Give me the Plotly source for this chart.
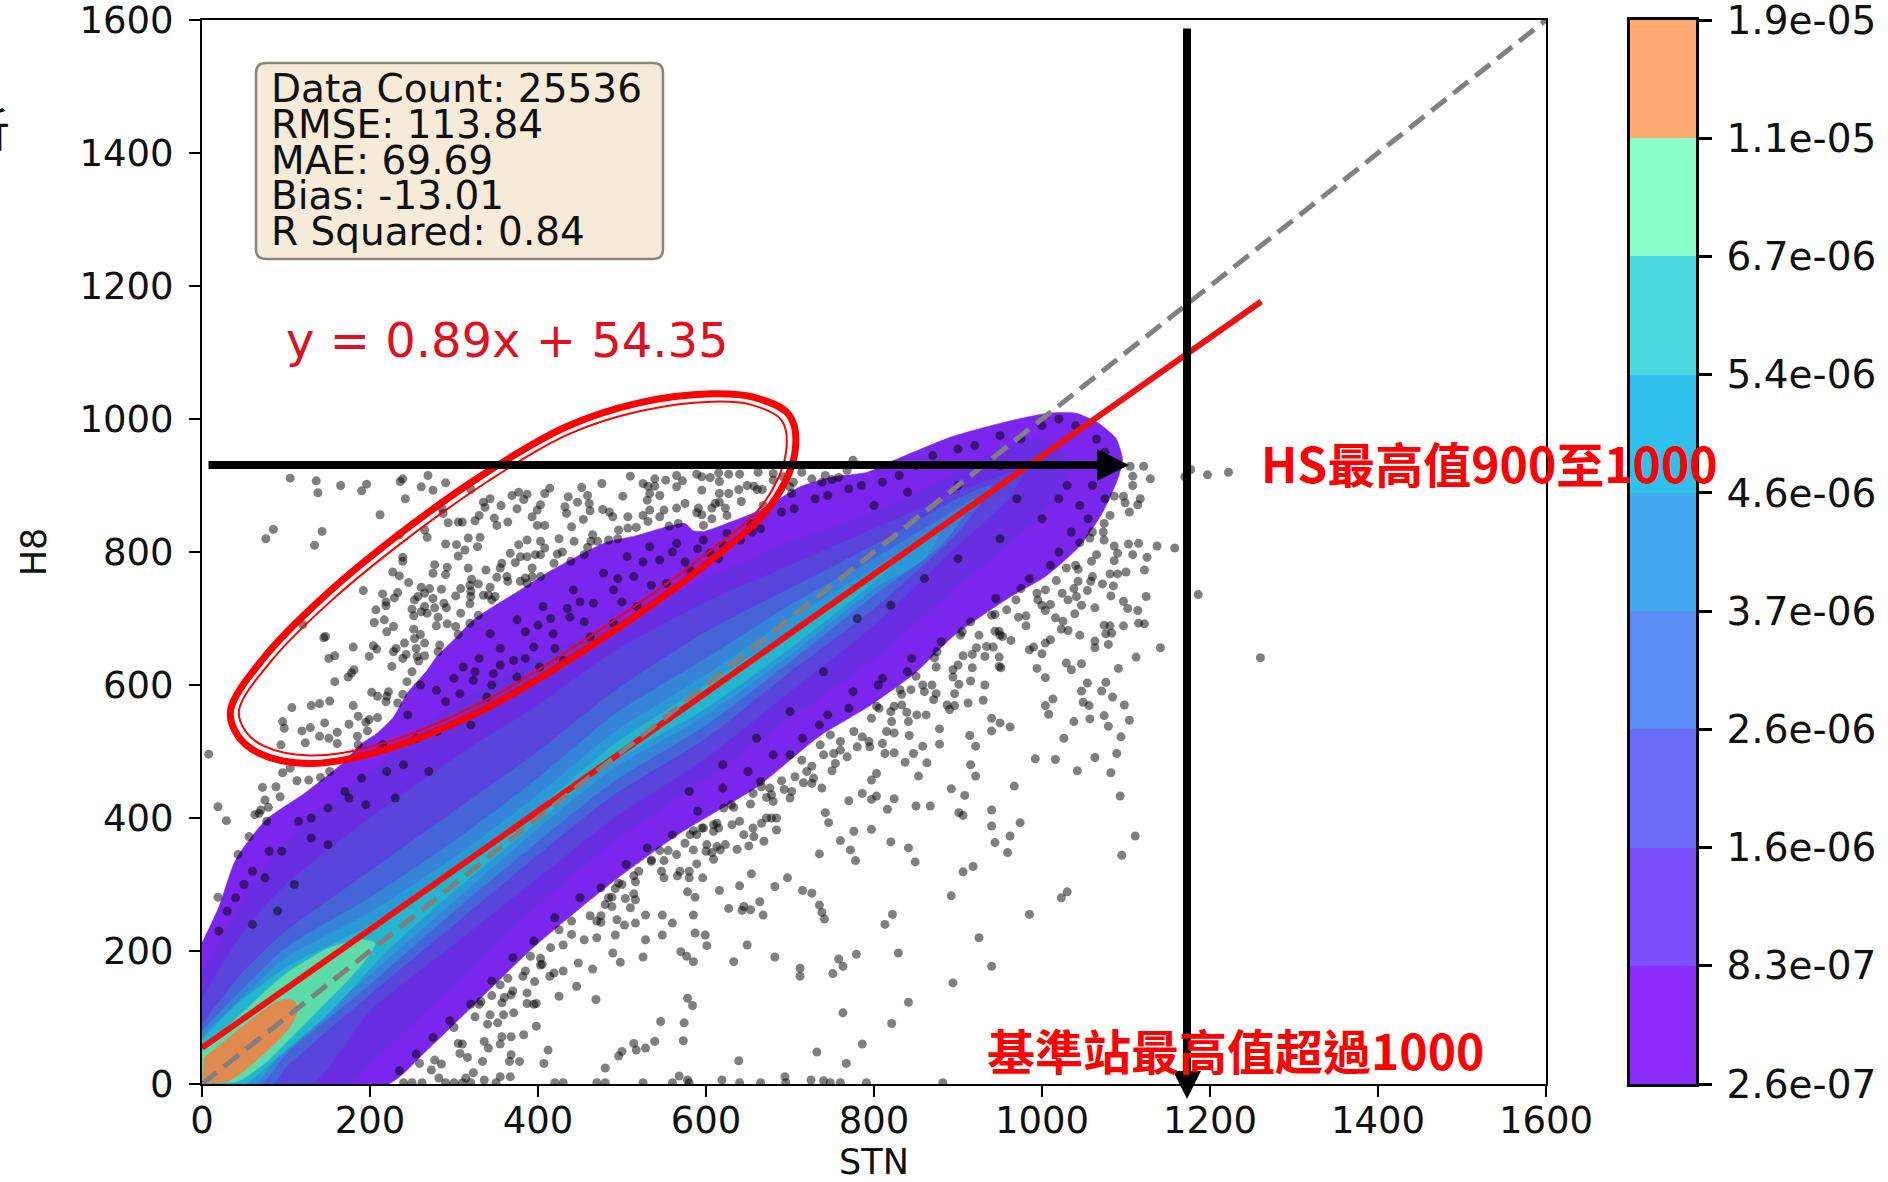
import plotly.graph_objects as go

W, H = 1888, 1182
PLOT_L, PLOT_R, PLOT_T, PLOT_B = 202, 1546, 20, 1084
CB_L, CB_R = 1630, 1696

axis_ticks = [0, 200, 400, 600, 800, 1000, 1200, 1400, 1600]
cbar_labels = ["2.6e-07", "8.3e-07", "1.6e-06", "2.6e-06", "3.7e-06", "4.6e-06", "5.4e-06", "6.7e-06", "1.1e-05", "1.9e-05"]
cbar_colors = ["#8b2cfb", "#7b50fb", "#6a6cf8", "#5a8ef5", "#40a9f0", "#30c0ec", "#4ad8e2", "#8affc8", "#ffa870"]
band_colors = ["#7a26ec", "#6a2ee2", "#5844da", "#4664d8", "#3584d8", "#2a9ad6", "#25b5cc", "#5cdca8", "#e08a50"]

band1_x = [0, 20, 40, 76, 123, 168, 188, 208, 228, 244, 268, 279, 303, 323, 347, 379, 410, 446, 482, 518, 553, 575, 585, 597, 625, 665, 712, 752, 792, 826, 894, 958, 1008, 1040, 1067, 1088, 1096, 1090, 1072, 1045, 1004, 963, 894, 849, 794, 735, 661, 569, 487, 396, 305, 268, 222, 0]
band1_y = [212, 266, 337, 397, 438, 483, 510, 527, 552, 587, 622, 642, 672, 698, 718, 743, 768, 793, 815, 825, 838, 843, 832, 831, 843, 863, 898, 913, 920, 939, 974, 996, 1009, 1009, 994, 971, 939, 909, 859, 809, 763, 733, 673, 618, 568, 523, 447, 377, 302, 207, 96, 51, 0, 0]
band2_x = [0, 30, 60, 100, 150, 200, 300, 400, 490, 600, 700, 800, 900, 950, 1000, 1025, 1030, 1000, 950, 900, 800, 700, 600, 490, 400, 300, 200, 175, 0]
band2_y = [165, 235, 300, 365, 420, 470, 570, 640, 690, 760, 815, 860, 920, 955, 970, 950, 910, 860, 800, 750, 640, 550, 460, 365, 270, 150, 30, 0, 0]
band3_x = [0, 50, 100, 200, 300, 400, 490, 600, 700, 800, 900, 980, 960, 900, 800, 700, 600, 490, 400, 300, 200, 130, 0]
band3_y = [130, 230, 300, 400, 490, 570, 650, 725, 780, 835, 890, 925, 880, 810, 690, 590, 490, 400, 310, 210, 110, 0, 0]
band4_x = [0, 50, 100, 200, 300, 400, 490, 600, 700, 800, 900, 940, 900, 800, 700, 600, 490, 400, 300, 200, 100, 85, 0]
band4_y = [90, 170, 230, 320, 410, 500, 590, 680, 745, 810, 880, 900, 830, 715, 620, 520, 435, 345, 240, 135, 25, 0, 0]
band5_x = [0, 50, 100, 200, 300, 400, 490, 600, 700, 800, 880, 920, 880, 800, 700, 600, 490, 400, 300, 200, 100, 70, 0]
band5_y = [80, 145, 205, 280, 365, 460, 555, 640, 720, 790, 850, 880, 810, 735, 635, 540, 455, 365, 260, 150, 45, 0, 0]
band6_x = [0, 50, 100, 200, 300, 400, 490, 600, 700, 800, 860, 880, 860, 800, 700, 600, 490, 400, 300, 200, 100, 62, 0]
band6_y = [72, 132, 190, 258, 340, 435, 528, 615, 700, 775, 825, 835, 790, 745, 645, 555, 475, 385, 275, 165, 55, 0, 0]
band7_x = [0, 40, 100, 190, 300, 400, 490, 600, 700, 790, 830, 800, 700, 600, 490, 400, 300, 220, 150, 90, 50, 0]
band7_y = [66, 118, 175, 232, 320, 415, 510, 600, 680, 760, 790, 755, 655, 565, 485, 395, 290, 200, 105, 40, 0, 0]
band8_x = [0, 43, 95, 150, 190, 206, 198, 178, 147, 111, 77, 43, 0]
band8_y = [51, 101, 161, 204, 217, 212, 192, 162, 122, 76, 34, 4, 3]
band9_x = [0, 31, 61, 91, 105, 113, 111, 99, 83, 43, 2]
band9_y = [1, 4, 31, 66, 86, 106, 124, 127, 119, 81, 39]
bands_x = [band1_x, band2_x, band3_x, band4_x, band5_x, band6_x, band7_x, band8_x, band9_x]
bands_y = [band1_y, band2_y, band3_y, band4_y, band5_y, band6_y, band7_y, band8_y, band9_y]

scatter_pairs = [
(105,911),(136,907),(138,889),(165,900),(190,892),(196,902),(236,906),(239,910),(269,915),(261,898),(275,893),(290,904),(242,880),(212,856),(85,834),(76,820),(143,831),(134,810),(320,894),(286,865),(287,858),(265,833),(268,822),(235,826),(293,844),(305,845),(310,845),(325,847),(330,855),(335,875),(343,880),(337,867),(356,870),(348,851),(351,840),(364,845),(375,865),(369,885),(377,890),(387,887),(383,879),(408,888),(414,896),(403,871),(399,863),(393,853),(399,840),(408,840),(432,868),(436,883),(447,875),(459,885),(452,897),(476,903),(461,873),(462,862),(434,858),(454,849),(440,838),(477,864),(485,860),(489,853),(501,884),(507,853),(510,914),(539,910),
(525,903),(531,899),(539,899),(533,888),(545,885),(530,878),(552,908),(565,915),(572,907),(565,898),(589,917),(595,913),(605,912),(616,906),(615,919),(627,917),(640,917),(662,920),(595,893),(616,888),(627,888),(639,894),(649,900),(657,899),(661,894),(616,875),(611,873),(607,866),(623,866),(642,876),(591,866),(589,859),(595,856),(575,873),(565,866),(533,863),(525,855),(531,846),(545,853),(550,863),(607,850),(597,840),(625,855),(507,836),(517,837),(496,833),(556,839),(567,843),
(465,826),(463,816),(471,816),(459,807),(484,818),(495,820),(443,816),(425,820),(423,797),(429,800),(439,786),(419,783),(455,796),(403,816),(408,806),(387,818),(377,811),(367,798),(379,793),(387,793),(397,796),(403,796),(373,784),(357,783),(355,776),(393,776),(393,763),(385,761),(403,763),(363,763),(351,762),(364,756),(379,756),(387,753),
(317,821),(331,822),(328,808),(303,811),(290,812),(313,803),(305,794),(239,792),(239,786),(277,781),(292,777),(317,776),(338,773),(275,768),(290,766),(227,770),(235,764),(321,759),(246,754),(261,747),(271,745),(285,744),(308,745),(319,750),(343,747),(329,752),(192,742),(215,737),(233,739),(229,731),(219,725),(219,719),(207,713),(257,733),(253,728),(265,738),(275,730),(302,734),(320,741),(320,733),(335,735),(341,735),(349,733),(345,728),(319,722),(288,723),(250,714),(265,718),(277,716),(291,716),(261,710),(268,708),(252,704),(281,702),(308,708),(329,705),(217,698),(205,694),(228,688),(220,680),(120,691),(279,689),(292,692),(302,688),(319,693),(252,684),(147,673),(145,671),(305,676),(260,676),(253,670),(241,663),(265,663),(180,657),(204,659),(208,654),(231,655),(228,650),(255,655),(283,660),(281,650),(158,644),(151,640),(199,643),(243,646),(239,640),(256,643),(265,644),(258,636),(226,628),(250,620),(181,623),(178,618),(174,612),(158,605),(244,605),(202,589),(209,583),(222,590),(220,583),(219,575),(239,586),(233,573),(152,576),(140,572),(130,569),(180,569),(107,566),(186,553),(96,545),(98,535),(199,548),(209,551),(146,543),(175,541),(195,544),(129,536),(119,531),(161,529),(197,531),(140,523),(151,520),(185,523),(123,513),(161,512),(186,510),(94,510),
(714,920),(726,910),(742,915),(738,905),(750,909),(758,912),(768,923),(775,938),(704,905),(700,898),(702,888),(680,918),(680,908),(692,913),(667,894),(668,870),
(8,496),(19,417),(29,396),(43,345),(19,281),(56,372),(68,407),(79,416),(72,446),(88,447),(75,427),(93,432),(63,405),(70,412),(77,395),(96,468),(105,475),(113,456),(127,457),(141,461),(152,470),
(803,568),(797,550),(776,530),(786,522),(794,515),(780,507),(736,510),(748,525),(795,507),(760,502),(752,497),(768,492),(740,495),(714,487),(726,478),(750,471),(754,482),(706,462),(690,456),(716,453),(728,460),(738,445),(726,452),(797,457),(803,467),(786,437),(797,428),(803,433),(770,426),(656,437),(666,447),(676,445),(693,443),(702,440),(678,435),(672,431),(700,430),(633,416),(621,415),(653,421),(742,408),(746,393),(609,390),(613,392),(631,390),(597,385),(585,381),(581,375),(609,380),(615,385),(666,392),(672,400),(678,400),(684,400),(656,385),(684,382),(776,380),(797,383),(645,375),(657,372),(669,365),(760,366),(589,375),(575,362),(601,360),(613,357),(623,360),(585,352),(607,348),(617,352),(637,353),(651,358),(735,346),(772,352),(778,336),(555,351),(545,351),(535,337),(550,336),(609,338),(589,331),(547,320),(569,320),(580,320),(566,313),(580,310),(596,310),(654,316),(697,310),(514,313),(516,304),(496,302),(492,294),(640,298),(682,297),(578,289),(616,291),(715,291),(726,287),(514,286),(488,281),(504,279),(516,277),(587,281),(664,274),(484,280),(735,269),(488,267),(627,264),(645,267),
(259,31),(277,36),(273,21),(282,9),(314,9),(323,17),(336,64),(341,54),(305,61),(307,46),(316,40),(334,34),(336,6),(355,11),(367,11),(366,34),(378,34),(368,44),(357,71),(368,71),(383,74),(352,92),(359,104),(371,107),(343,104),(325,101),(332,124),(357,122),(387,121),(398,121),(387,137),(368,134),(345,133),(398,87),(412,51),(407,31),(425,132),(469,127),(446,147),(414,162),(419,167),(396,154),(382,162),(355,149),(364,159),(391,192),(403,189),(403,179),(430,209),(448,182),(465,173),(455,217),(425,232),(462,253),(475,253),(475,243),(492,224),(489,197),(498,183),(525,191),(528,217),(548,224),(548,254),(560,242),(503,239),(516,242),(494,247),(528,254),(585,254),(587,227),(599,224),(601,208),(570,199),(577,192),(585,184),(578,129),(584,118),(546,94),(574,92),(514,61),(528,54),(517,51),(539,64),(573,65),(500,49),(496,42),(480,24),(639,35),(568,12),(578,6),(619,6),(694,11),
(649,209),(633,184),(682,191),(668,254),(653,262),(643,261),
(240,2),(250,2),(262,2),(290,2),(300,2),(310,2),(320,2),(350,2),(420,2),(430,2),(470,2),(480,2),(525,2),(560,2),(580,2),(640,2),(665,2),(695,2),(760,2),
(1105,929),(1121,929),(1129,910),(1108,914),(1108,900),(1177,924),(1170,913),(1197,916),(1222,920),(1097,884),(1086,884),(1117,880),(1114,871),(1099,874),(1104,860),(1081,855),(1074,843),(1073,830),(1074,818),(1057,821),(1086,809),(1103,812),(1115,813),(1137,809),(1158,806),(1090,798),(1108,796),(1125,792),(1086,787),(1065,796),(1059,786),(1045,814),(1122,773),(1100,770),(1081,767),(1090,767),(1029,776),(1043,774),(1060,763),(1017,757),(1043,756),(1058,756),(1072,752),(1085,749),(1004,743),(994,738),(1038,745),(1024,738),(1054,742),(1124,733),(1082,734),(1186,736),(995,728),(969,728),(1010,721),(1031,728),(1041,733),(1097,726),(1047,720),(1063,716),(1102,715),(1114,712),(1004,712),(1039,707),(958,713),(944,706),(981,704),(972,702),(1016,701),(1025,696),(1115,693),(1122,692),(1074,690),(1081,689),(1097,689),(981,689),(1023,684),(1031,682),(1045,675),(1076,677),(1083,678),(944,681),(925,675),(949,681),(903,675),(953,673),(963,667),(1010,668),(1004,663),(1063,666),(1079,661),(1063,656),(990,657),(985,653),(934,658),(922,656),(942,657),(1141,656),(1000,647),(1260,641),(1112,642),(906,644),(917,646),(932,643),(949,642),(872,641),(1029,633),(1047,632),(949,628),(917,626),(994,625),(1091,625),(1035,623),(874,627),(894,623),(951,626),(894,612),(1004,611),(1054,603),(1076,604),(858,600),(869,600),(850,613),(901,601),(915,606),(932,600),(831,593),(844,593),(1047,591),(1071,591),(874,587),(896,587),(833,586),(1084,582),(1013,579),(871,578),(930,577),(1004,569),(1049,574),(1056,569),(1098,570),(912,573),(887,570),(896,569),(890,563),(824,568),(833,570),(806,565),(839,559),(851,555),(862,555),(1008,556),(1074,554),(821,545),(841,545),(1057,549),(1104,547),(1038,545),(940,550),(950,543),(1079,538),(962,537),(878,534),(940,531),(815,530),(824,528),(842,524),(914,524),(1026,520),(1094,522),(878,511),(810,512),(858,508),(921,508),(824,498),(813,497),(847,497),(1089,497),(992,489),(1016,488),(1063,491),(837,484),(863,483),(915,480),(1042,471),(1082,468),(921,463),(853,463),
(892,444),(908,434),(967,448),(1093,433),(816,413),(850,418),(867,418),(824,429),(901,408),(906,404),(940,412),(940,388),(974,393),(962,373),(1111,373),(820,364),(944,363),(841,355),(1095,344),(959,348),(849,334),(918,327),(906,319),(1030,289),(1023,280),(892,283),(738,258),(741,248),(822,255),(813,240),(985,255),(925,220),(829,197),(779,195),(758,188),(763,177),(751,166),(940,177),(894,152),(841,123),(763,107),(821,91),(786,60),(732,48),(767,31),(725,6),(740,5),(748,2),(791,2),(882,2),(712,174),(712,162),
(311,627),(323,607),(347,617),(371,637),(395,657),(418,677),(438,702),(466,723),(490,743),(514,763),(545,788),(565,813),(597,818),(625,828),(343,677),(375,698),(406,718),(442,743),(478,768),(506,793),(533,808),(279,592),(307,587),(339,582),(375,612),(402,627),(430,637),(462,672),(490,693),(518,718),(553,753),(581,773),(605,798),(641,818),(653,843),
(60,320),(95,350),(130,400),(170,440),(110,300),(150,360),(195,420),(240,480),(280,530),(90,260),(60,240),(40,280),(230,430),(270,470),(320,540),
(340,90),(370,140),(405,180),(440,225),(480,270),(520,320),(310,60),(285,30),(355,60),(395,120),(430,170),(470,220),(510,265),(550,310),(600,350),(640,395),(680,425),(720,470),(760,515),
(820,560),(860,590),(900,630),(950,675),(1000,720),(1040,780),(1060,830),(1020,880),(970,880),(900,900),(840,890),(800,870),(780,700),(820,720),(860,760),(900,790),(950,820),(1000,850),(1030,900),(950,930),(740,620),(700,560),(660,520),(620,480),(580,440),
(330,640),(355,655),(385,680),(415,700),(450,725),(495,760),(525,785),(560,800),(590,805),(620,810),(655,830),(690,860),(730,880),(770,895),(810,905),(850,930),(900,955),(950,975),(1000,990),(1040,990),(1065,970),
(300,610),(345,600),(385,640),(420,655),(455,695),(500,725),(535,750),(575,785),(615,790),(665,835),(705,865),(745,885),(785,900),(830,915),(870,945),(920,960),(975,970),(1020,1000),(1075,950),(1060,900),
(30,260),(50,300),(80,350),(115,395),(150,415),(190,460),(215,510),(245,555),(260,600),(20,230),(75,310),(130,370),(175,430),(220,470),(255,520),(290,575),(325,620),(355,630),(400,690),(435,715),
(235,20),(255,45),(275,70),(295,95),(320,120),(345,155),(370,190),(395,215),(420,250),(450,280),(475,295),(505,330),(530,355),(560,375),(590,410),(620,445),(650,470),(680,495),(715,520),(745,555),(775,590),(810,610),(845,640),(880,665),(915,695),(945,730),(985,760),(1020,800),(1055,850),(1075,880),
(300,85),(330,120),(360,130),(385,170),(415,205),(440,245),(470,245),(500,300),(535,335),(565,345),(595,385),(630,420),(665,455),(700,495),(735,540),(770,565),(805,600),(840,620),(875,650),(905,680),(940,705),(975,745),(1010,780),(1035,830),(1045,870)
]
stn_values = [p[0] for p in scatter_pairs]
h8_values = [p[1] for p in scatter_pairs]

fit_x = [0, 1261]
fit_y = [54.35, 1176.64]
identity_x = [0, 1600]
identity_y = [0, 1600]

ring_outer_x = [34, 42, 67, 125, 204, 333, 476, 606, 677, 706, 699, 656, 606, 519, 433, 333, 232, 146, 75, 34]
ring_outer_y = [562, 525, 498, 482, 498, 562, 670, 788, 870, 951, 1006, 1033, 1038, 1024, 988, 915, 824, 734, 643, 562]
ring_inner_x = [44, 52, 74, 127, 204, 330, 470, 598, 668, 695, 690, 652, 606, 522, 438, 340, 240, 155, 85, 44]
ring_inner_y = [562, 530, 508, 494, 508, 572, 680, 795, 872, 948, 998, 1022, 1026, 1012, 978, 906, 816, 728, 640, 562]

stats_lines = ["Data Count: 25536", "RMSE: 113.84", "MAE: 69.69", "Bias: -13.01", "R Squared: 0.84"]
equation_text = "y = 0.89x + 54.35"


def fx(p):
    return p / W


def fy(p):
    return 1 - p / H


fig = go.Figure()
for bx, by, col in zip(bands_x, bands_y, band_colors):
    fig.add_trace(go.Scatter(x=bx, y=by, mode="lines", fill="toself", fillcolor=col,
                             line=dict(color=col, width=0.5, shape="spline", smoothing=0.6),
                             hoverinfo="skip", showlegend=False))
fig.add_trace(go.Scatter(x=stn_values, y=h8_values, mode="markers",
                         marker=dict(size=9, color="rgba(0,0,0,0.5)", line=dict(width=0)),
                         showlegend=False))
fig.add_trace(go.Scatter(x=fit_x, y=fit_y, mode="lines", line=dict(color="#f01010", width=6), showlegend=False))
fig.add_trace(go.Scatter(x=identity_x, y=identity_y, mode="lines",
                         line=dict(color="#808080", width=5, dash="19px,9px"), showlegend=False))
fig.add_trace(go.Scatter(x=ring_outer_x, y=ring_outer_y, mode="lines",
                         line=dict(color="#ff0000", width=7, shape="spline", smoothing=1), showlegend=False))
fig.add_trace(go.Scatter(x=ring_inner_x, y=ring_inner_y, mode="lines",
                         line=dict(color="#ff0000", width=2, shape="spline", smoothing=1), showlegend=False))

for i, col in enumerate(cbar_colors):
    fig.add_trace(go.Bar(x=[0], y=[1], base=[i], width=1, marker=dict(color=col, line=dict(width=0)),
                         xaxis="x2", yaxis="y2", showlegend=False, hoverinfo="skip"))

axis_style = dict(range=[0, 1600], tickvals=axis_ticks, ticks="outside", ticklen=11, tickwidth=2, tickcolor="black",
                  showline=True, linecolor="black", linewidth=2, mirror=True, showgrid=False, zeroline=False,
                  ticklabeloverflow="allow", tickfont=dict(family="DejaVu Sans", size=37, color="#111111"))

r = 10
x0, x1, y0, y1 = fx(256), fx(663), fy(259), fy(63)
rx, ry = r / W, r / H
round_box = (f"M {x0+rx} {y0} L {x1-rx} {y0} Q {x1} {y0} {x1} {y0+ry} L {x1} {y1-ry} Q {x1} {y1} {x1-rx} {y1} "
             f"L {x0+rx} {y1} Q {x0} {y1} {x0} {y1-ry} L {x0} {y0+ry} Q {x0} {y0} {x0+rx} {y0} Z")

annots = []
for line, ypx in zip(stats_lines, [88, 124, 160, 196, 232]):
    annots.append(dict(text=line, xref="paper", yref="paper", x=fx(269), y=fy(ypx), xanchor="left", yanchor="middle",
                       showarrow=False, font=dict(family="DejaVu Sans", size=39, color="#111111")))
annots.append(dict(text=equation_text, xref="paper", yref="paper", x=fx(284), y=fy(340), xanchor="left", yanchor="middle",
                   showarrow=False, font=dict(family="DejaVu Sans", size=48, color="#e01020")))
annots.append(dict(text="", xref="paper", yref="paper", x=fx(1129), y=fy(465), ax=-(1129 - 207), ay=0, showarrow=True,
                   arrowhead=2, arrowsize=0.8, arrowwidth=8, arrowcolor="black"))
annots.append(dict(text="", xref="paper", yref="paper", x=fx(1187), y=fy(1099), ax=0, ay=-(1099 - 27), showarrow=True,
                   arrowhead=2, arrowsize=0.7, arrowwidth=8, arrowcolor="black"))
annots.append(dict(text="<b>HS最高值900至1000</b>", xref="paper", yref="paper", x=fx(1259), y=fy(462), xanchor="left", yanchor="middle",
                   showarrow=False, font=dict(family="Noto Sans CJK TC", size=48, color="#ff0000")))
annots.append(dict(text="<b>基準站最高值超過1000</b>", xref="paper", yref="paper", x=fx(985), y=fy(1049), xanchor="left", yanchor="middle",
                   showarrow=False, font=dict(family="Noto Sans CJK TC", size=48, color="#ff0000")))
annots.append(dict(text="析", xref="paper", yref="paper", x=fx(12), y=fy(126), xanchor="right", yanchor="middle",
                   showarrow=False, font=dict(family="Noto Sans CJK TC", size=46, color="#111111")))

fig.update_layout(
    width=W, height=H, margin=dict(l=0, r=0, t=0, b=0, autoexpand=False), paper_bgcolor="white", plot_bgcolor="white",
    bargap=0, barmode="overlay", showlegend=False, hovermode=False,
    xaxis=dict(domain=[fx(PLOT_L), fx(PLOT_R)], ticklabelstandoff=-8, title=dict(text="STN", standoff=2, font=dict(family="DejaVu Sans", size=35, color="#111111")), **axis_style),
    yaxis=dict(domain=[fy(PLOT_B), fy(PLOT_T)], ticklabelstandoff=8, title=dict(text="H8", standoff=22, font=dict(family="DejaVu Sans", size=35, color="#111111")), **axis_style),
    xaxis2=dict(domain=[fx(CB_L), fx(CB_R)], range=[-0.5, 0.5], anchor="y2", showticklabels=False, ticks="", showgrid=False,
                zeroline=False, showline=True, linecolor="black", linewidth=2.5, mirror=True),
    yaxis2=dict(domain=[fy(PLOT_B), fy(PLOT_T)], range=[0, 9], anchor="x2", side="right", tickvals=list(range(10)), ticktext=cbar_labels,
                ticks="outside", ticklen=13, tickwidth=2.5, tickcolor="black", showgrid=False, zeroline=False, showline=True,
                linecolor="black", linewidth=2.5, mirror=True, ticklabelstandoff=7, ticklabeloverflow="allow",
                tickfont=dict(family="DejaVu Sans", size=39, color="#111111")),
    shapes=[dict(type="path", xref="paper", yref="paper", path=round_box, fillcolor="#f6ebd8", line=dict(color="#8a8578", width=2.5), layer="above")],
    annotations=annots,
)

fig.write_html("out.html", config=dict(displayModeBar=False), post_script="document.body.style.margin='0';")
